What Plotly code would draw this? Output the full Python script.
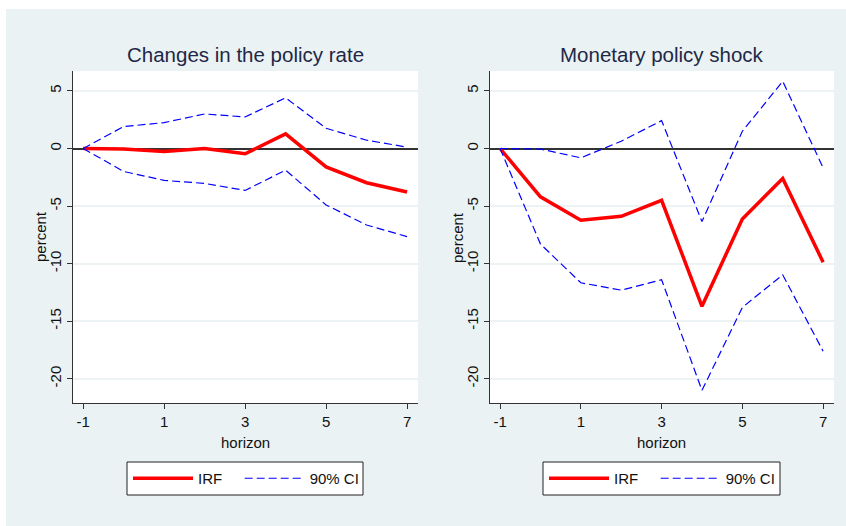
import plotly.graph_objects as go

horizon = [-1, 0, 1, 2, 3, 4, 5, 6, 7]

# Changes in the policy rate
rate_irf = [0, -0.05, -0.26, 0.0, -0.46, 1.27, -1.6, -2.97, -3.78]
rate_hi = [0, 1.9, 2.25, 3.0, 2.74, 4.4, 1.76, 0.72, 0.12]
rate_lo = [0, -1.99, -2.77, -3.03, -3.64, -1.88, -4.9, -6.64, -7.65]

# Monetary policy shock
shock_irf = [0, -4.2, -6.23, -5.89, -4.5, -13.7, -6.12, -2.6, -9.87]
shock_hi = [0, -0.05, -0.81, 0.63, 2.42, -6.35, 1.5, 5.83, -1.67]
shock_lo = [0, -8.3, -11.66, -12.3, -11.4, -21.0, -13.8, -10.97, -17.6]

titles = ["Changes in the policy rate", "Monetary policy shock"]
yticks = [5, 0, -5, -10, -15, -20]
xticks = [-1, 1, 3, 5, 7]

W, H = 846, 526
FONT = "Liberation Sans, Arial, sans-serif"
BG = "#eaf2f3"
NB = "\u00a0"

fig = go.Figure()

# outer background first so everything else sits on top of it
fig.add_shape(type="rect", xref="paper", yref="paper", x0=6 / W, x1=1, y0=0, y1=1 - 9 / H,
              fillcolor=BG, line_width=0, layer="below")

panels = [(rate_irf, rate_hi, rate_lo), (shock_irf, shock_hi, shock_lo)]
doms = [(73 / W, 418 / W), (490 / W, 834 / W)]
ydom = ((H - 403) / H, (H - 71) / H)
legbox = [(127, 363), (543, 780)]

for i, (irf, hi, lo) in enumerate(panels):
    n = "" if i == 0 else "2"
    leg = "legend" if i == 0 else "legend2"
    fig.add_trace(go.Scatter(x=horizon, y=irf, mode="lines", name="IRF" + NB * 3,
                             line=dict(color="#ff0000", width=3.5),
                             xaxis="x" + n, yaxis="y" + n, legend=leg))
    fig.add_trace(go.Scatter(x=horizon, y=hi, mode="lines", name="90% CI",
                             line=dict(color="#0000ff", width=1.2, dash="8px,4px"),
                             xaxis="x" + n, yaxis="y" + n, legend=leg))
    fig.add_trace(go.Scatter(x=horizon, y=lo, mode="lines", name="90% CI",
                             line=dict(color="#0000ff", width=1.2, dash="8px,4px"),
                             xaxis="x" + n, yaxis="y" + n, legend=leg,
                             showlegend=False))

    ax = dict(domain=doms[i], range=[-1.25, 7.27], tickvals=xticks,
              ticktext=[str(v) for v in xticks],
              ticks="outside", ticklen=5, tickcolor="#333", showgrid=False,
              showline=True, linecolor="#333", linewidth=1, zeroline=False,
              tickfont=dict(size=15, color="#111", family=FONT),
              anchor="y" + n)
    ay = dict(domain=ydom, range=[-22.1, 6.73], tickvals=yticks,
              ticktext=[str(v) for v in yticks],
              ticks="outside", ticklen=5, tickcolor="#333", tickangle=-90,
              showgrid=True, gridcolor="#edf3f4", gridwidth=1.5,
              showline=True, linecolor="#333", linewidth=1,
              zeroline=True, zerolinecolor="#333", zerolinewidth=1.5,
              tickfont=dict(size=15, color="#111", family=FONT),
              anchor="x" + n)
    fig.update_layout({"xaxis" + n: ax, "yaxis" + n: ay})

    # white plot region
    fig.add_shape(type="rect", xref="paper", yref="paper", x0=doms[i][0], x1=doms[i][1],
                  y0=ydom[0], y1=ydom[1], fillcolor="white", line_width=0, layer="below")

    cx = (doms[i][0] + doms[i][1]) / 2
    fig.add_annotation(text=titles[i], x=cx, y=1 - 55 / H, xref="paper", yref="paper",
                       xanchor="center", yanchor="middle", showarrow=False,
                       font=dict(size=20.5, color="#1e2846", family=FONT))
    fig.add_annotation(text="horizon", x=cx, y=1 - 442 / H, xref="paper", yref="paper",
                       xanchor="center", yanchor="middle", showarrow=False,
                       font=dict(size=15, color="#111", family=FONT))
    fig.add_annotation(text="percent", x=doms[i][0] - 33 / W, y=(ydom[0] + ydom[1]) / 2,
                       xref="paper", yref="paper", textangle=-90, showarrow=False,
                       xanchor="center", yanchor="middle",
                       font=dict(size=15, color="#111", family=FONT))

    # legend frame
    b0, b1 = legbox[i]
    fig.add_shape(type="rect", xref="paper", yref="paper", x0=b0 / W, x1=b1 / W,
                  y0=1 - 495 / H, y1=1 - 462 / H, fillcolor="white",
                  line=dict(color="#222", width=1), layer="below")

legstyle = dict(orientation="h", xanchor="left", yanchor="middle", y=1 - 478.5 / H,
                bgcolor="rgba(0,0,0,0)", borderwidth=0,
                font=dict(size=15, color="#111", family=FONT), itemwidth=60)
fig.update_layout(
    legend=dict(x=(legbox[0][0] + 1) / W, **legstyle),
    legend2=dict(x=(legbox[1][0] + 1) / W, **legstyle),
)

fig.update_layout(width=W, height=H,
                  margin=dict(l=0, r=0, t=0, b=0, autoexpand=False),
                  paper_bgcolor="white", plot_bgcolor="rgba(0,0,0,0)")

fig.write_html("out.html", config={"displayModeBar": False},
               post_script="document.body.style.margin = '0';")
